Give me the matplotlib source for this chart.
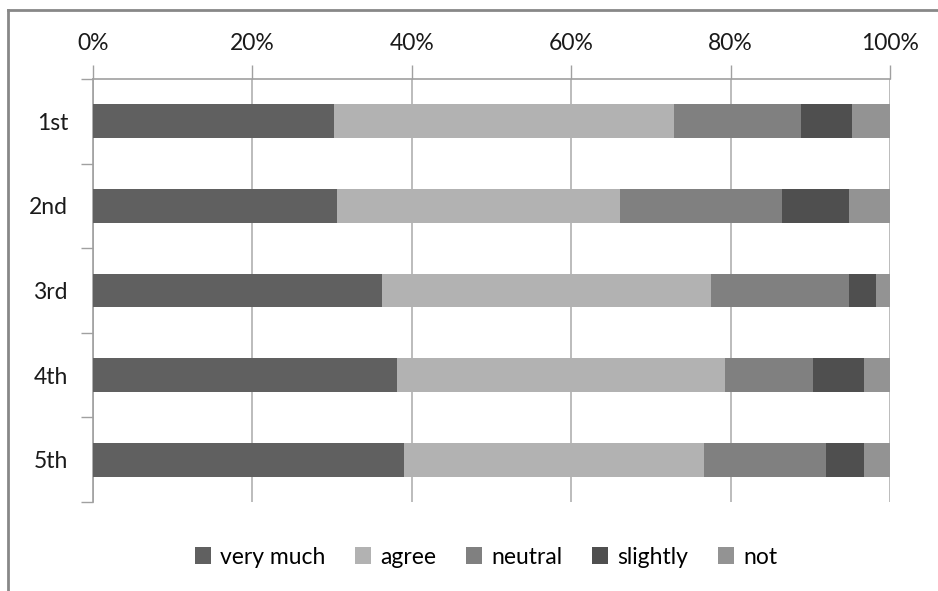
import matplotlib
matplotlib.use("Agg")
import matplotlib.pyplot as plt
from matplotlib.lines import Line2D
import numpy as np

categories = ["1st", "2nd", "3rd", "4th", "5th"]
series_names = ["very much", "agree", "neutral", "slightly", "not"]
very_much = [30.2, 30.6, 36.3, 38.1, 39.0]
agree = [42.7, 35.5, 41.2, 41.2, 37.6]
neutral = [15.9, 20.3, 17.3, 11.1, 15.4]
slightly = [6.4, 8.4, 3.4, 6.4, 4.8]
not_ = [4.8, 5.2, 1.8, 3.2, 3.2]
colors = ["#606060", "#b2b2b2", "#808080", "#4f4f4f", "#939393"]
xticklabels = ["0%", "20%", "40%", "60%", "80%", "100%"]

plt.rcParams['font.family'] = ['Lato', 'DejaVu Sans']

fig = plt.figure(figsize=(9.38, 5.91), dpi=100)
ax = fig.add_axes([93/938, 1-502/591, 797/938, 423/591])

data = [very_much, agree, neutral, slightly, not_]
y = np.arange(len(categories))
left = np.zeros(len(categories))
handles = []
for name, vals, c in zip(series_names, data, colors):
    vals = np.array(vals)
    h = ax.barh(y, vals, left=left, height=0.4, color=c, label=name, zorder=3)
    handles.append(h)
    left += vals

ax.set_xlim(0, 100)
ax.set_ylim(4.5, -0.5)
ax.set_xticks([0, 20, 40, 60, 80, 100])
ax.set_xticklabels(xticklabels)
ax.xaxis.tick_top()
ax.tick_params(axis='x', which='major', length=10, width=1, color='#a0a0a0',
               labelsize=16.5, pad=8, labelcolor='#1a1a1a', direction='out')
ax.set_yticks(y)
ax.set_yticklabels(categories)
ax.set_yticks(np.arange(-0.5, 5, 1), minor=True)
ax.tick_params(axis='y', which='major', length=0, labelsize=16.5, pad=18, labelcolor='#1a1a1a')
ax.tick_params(axis='y', which='minor', length=9, width=1, color='#a0a0a0', direction='out')
ax.grid(axis='x', color='#b0b0b0', linewidth=1.2, zorder=0)
for s in ['right', 'bottom']:
    ax.spines[s].set_visible(False)
for s in ['top', 'left']:
    ax.spines[s].set_color('#a0a0a0')
    ax.spines[s].set_linewidth(1.2)

fig.legend(handles=handles, labels=series_names, loc='center', bbox_to_anchor=(486/938, 1-557/591),
           ncol=5, frameon=False, fontsize=16.5, handlelength=0.7, handleheight=0.7,
           handletextpad=0.4, columnspacing=1.3)

# chart border (left and top)
fig.add_artist(Line2D([8/938, 8/938], [0, 1-10/591], transform=fig.transFigure, color='#888888', linewidth=2))
fig.add_artist(Line2D([8/938, 1], [1-10/591, 1-10/591], transform=fig.transFigure, color='#888888', linewidth=2))

fig.savefig("out.png", dpi=100)
